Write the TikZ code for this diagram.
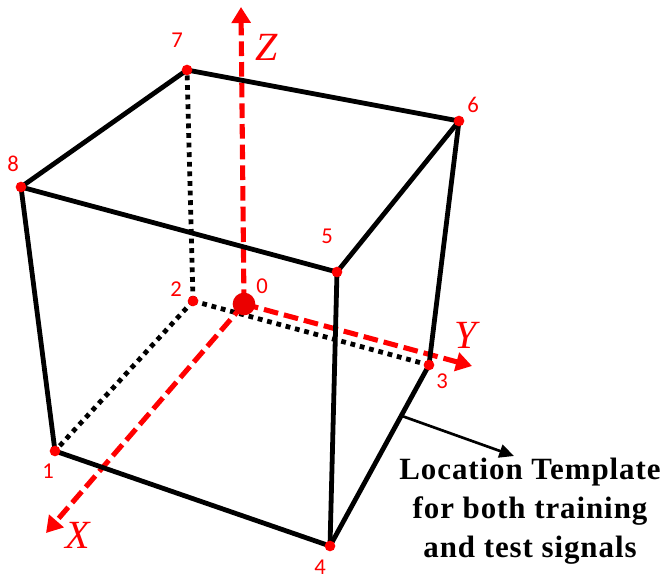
\documentclass[tikz,border=0pt]{standalone}
\usepackage{fontspec}
\setmainfont{Liberation Serif}
\newfontfamily\numfont{Carlito}
\newfontfamily\capfont[LetterSpace=3.0]{Liberation Serif}
\usetikzlibrary{arrows.meta}
\definecolor{axisred}{RGB}{255,0,0}
\tikzset{
  vertexdot/.style={circle,fill=axisred,draw=none,inner sep=0pt,minimum size=8pt},
  origindot/.style={circle,fill=axisred!92!black,draw=none,inner sep=0pt,minimum size=17pt},
  solidedge/.style={draw=black,line width=3.6pt,line cap=round,line join=round},
  hiddenedge/.style={draw=black,line width=3.6pt,dash pattern=on 3.6pt off 3.6pt},
  axisline/.style={draw=axisred,line width=3.8pt,dash pattern=on 11pt off 4.5pt,-{Triangle[length=12pt,width=14pt,fill=axisred]}},
  numlabel/.style={text=axisred,font=\numfont\fontsize{17pt}{19pt}\selectfont,inner sep=0pt},
  axislabel/.style={text=axisred,font=\fontsize{30pt}{32pt}\selectfont\itshape,inner sep=0pt},
  pointer/.style={draw=black,line width=2pt,-{Triangle[length=11pt,width=10pt]}},
  caption/.style={align=center,inner sep=0pt,font=\capfont\fontsize{23.2pt}{29.2pt}\selectfont\bfseries}
}
\begin{document}
\begin{tikzpicture}[x=0.75pt,y=-0.75pt]
\useasboundingbox (0,0) rectangle (662,579);
\coordinate (p1) at (55,451);
\coordinate (p2) at (193,301);
\coordinate (p3) at (429,365);
\coordinate (p4) at (330,546);
\coordinate (p5) at (337,272);
\coordinate (p6) at (459,121);
\coordinate (p7) at (187,70);
\coordinate (p8) at (21,187);
\coordinate (o) at (244,304);
\coordinate (zend) at (241,7);
\coordinate (yend) at (472,366);
\coordinate (xend) at (46,533);
\coordinate (ptrstart) at (402,416);
\coordinate (ptrend) at (514,456);
% hidden edges
\draw[hiddenedge] (p2) -- (p1);
\draw[hiddenedge] (p2) -- (p3);
\draw[hiddenedge] (p2) -- (p7);
% axes
\draw[axisline] (o) -- (zend);
\draw[axisline] (o) -- (yend);
\draw[axisline] (o) -- (xend);
% solid edges
\draw[solidedge] (p1) -- (p4) -- (p3) -- (p6) -- (p7) -- (p8) -- (p1);
\draw[solidedge] (p8) -- (p5) -- (p6);
\draw[solidedge] (p5) -- (p4);
\draw[pointer] (ptrstart) -- (ptrend);
% dots
\node[origindot] (n0) at (o) {};
\foreach \i in {1,...,8} \node[vertexdot] (n\i) at (p\i) {};
% numbers
\node[numlabel] (l0) at (262,286) {0};
\node[numlabel] (l1) at (48,471) {1};
\node[numlabel] (l2) at (176,289) {2};
\node[numlabel] (l3) at (442,381) {3};
\node[numlabel] (l4) at (320,567) {4};
\node[numlabel] (l5) at (327,236) {5};
\node[numlabel] (l6) at (473,105) {6};
\node[numlabel] (l7) at (177,40) {7};
\node[numlabel] (l8) at (13,164) {8};
% axis names
\node[axislabel] (lz) at (267,47) {Z};
\node[axislabel] (ly) at (466,335) {Y};
\node[axislabel] (lx) at (78,535) {X};
\node[caption] (cap) at (530,511) {Location Template\\for both training\\and test signals};
\end{tikzpicture}
\end{document}
